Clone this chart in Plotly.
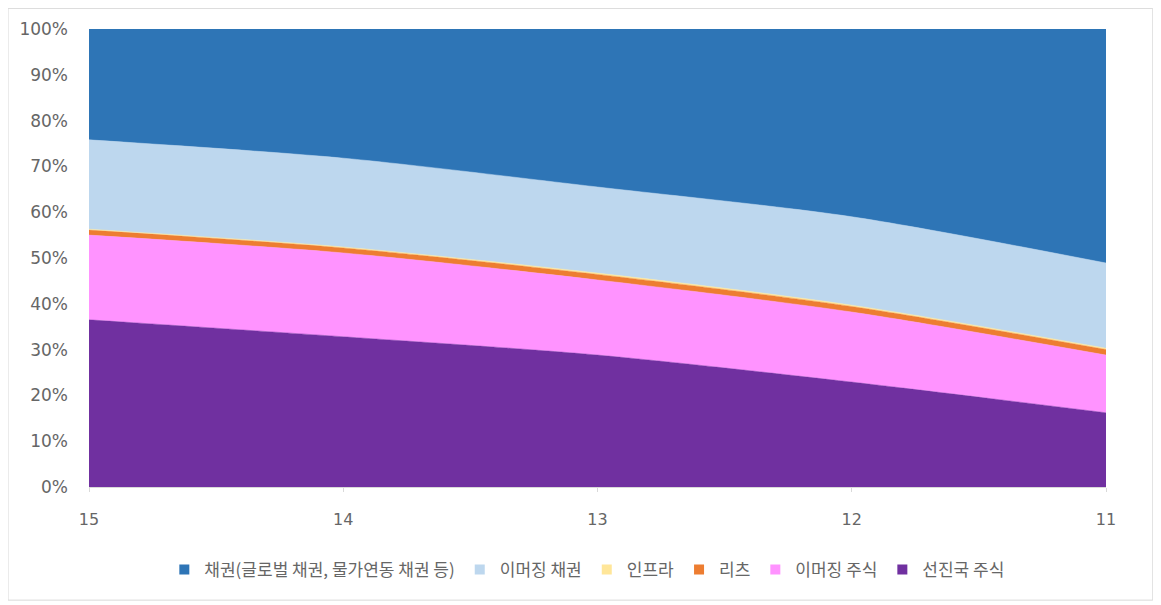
import plotly.graph_objects as go

categories = ["15", "14", "13", "12", "11"]
developed_equity = [36.5, 32.8, 28.8, 22.9, 16.2]   # 선진국 주식
emerging_equity = [18.5, 18.3, 16.4, 15.3, 12.6]    # 이머징 주식
reits = [1.1, 1.1, 1.2, 1.2, 1.2]                   # 리츠
infra = [0.2, 0.2, 0.3, 0.3, 0.3]                   # 인프라
emerging_bonds = [19.5, 19.4, 18.8, 19.3, 18.6]     # 이머징 채권
bonds = [24.2, 28.2, 34.5, 41.0, 51.1]              # 채권(글로벌 채권, 물가연동 채권 등)
y_ticks = list(range(0, 101, 10))
y_tick_labels = [f"{v}%" for v in y_ticks]

series = [
    ("선진국 주식", developed_equity, "#7030A0"),
    ("이머징 주식", emerging_equity, "#FF93FF"),
    ("리츠", reits, "#ED7D31"),
    ("인프라", infra, "#FFE699"),
    ("이머징 채권", emerging_bonds, "#BDD7EE"),
    ("채권(글로벌 채권, 물가연동 채권 등)", bonds, "#2E75B6"),
]

fig = go.Figure()
for name, vals, color in series:
    fig.add_trace(go.Scatter(
        x=categories, y=vals, name=name, mode="lines",
        stackgroup="one", groupnorm="percent",
        line=dict(color=color, width=0.5, shape="spline", smoothing=0.8),
        fillcolor=color, showlegend=False, legendgroup=name,
    ))
# legend entries with square swatches
for name, vals, color in series:
    fig.add_trace(go.Scatter(
        x=[None], y=[None], name=name, mode="markers",
        marker=dict(symbol="square", size=10, color=color),
        legendgroup=name, showlegend=True,
    ))

tick_font = "DejaVu Sans, sans-serif"
fig.update_layout(
    width=1153, height=597,
    margin=dict(l=81, r=55, t=21, b=118),
    paper_bgcolor="white", plot_bgcolor="white",
    font=dict(family="Noto Sans CJK KR, Noto Sans, sans-serif", color="#666666", size=14),
    showlegend=True,
    legend=dict(
        orientation="h", traceorder="reversed",
        x=0.49, xanchor="center", y=-0.181, yanchor="middle",
        font=dict(size=17, color="#666666"),
        itemwidth=30,
    ),
    xaxis=dict(
        type="category", range=[0, 4],
        showgrid=False, showline=True, linecolor="#D9D9D9",
        ticks="outside", ticklen=4, tickcolor="#D9D9D9",
        ticklabelstandoff=14,
        tickfont=dict(size=16, color="#666666", family=tick_font),
    ),
    yaxis=dict(
        range=[0, 100], tickvals=y_ticks, ticktext=y_tick_labels,
        showgrid=False, zeroline=False, showline=False,
        ticklabelstandoff=20,
        tickfont=dict(size=17, color="#666666", family=tick_font),
    ),
    shapes=[dict(
        type="rect", xref="paper", yref="paper",
        x0=-0.0796, x1=1.046, y0=-0.247, y1=1.045,
        line=dict(color="#D9D9D9", width=1), fillcolor="rgba(0,0,0,0)",
        layer="below",
    )],
)

fig.write_html("out.html")
